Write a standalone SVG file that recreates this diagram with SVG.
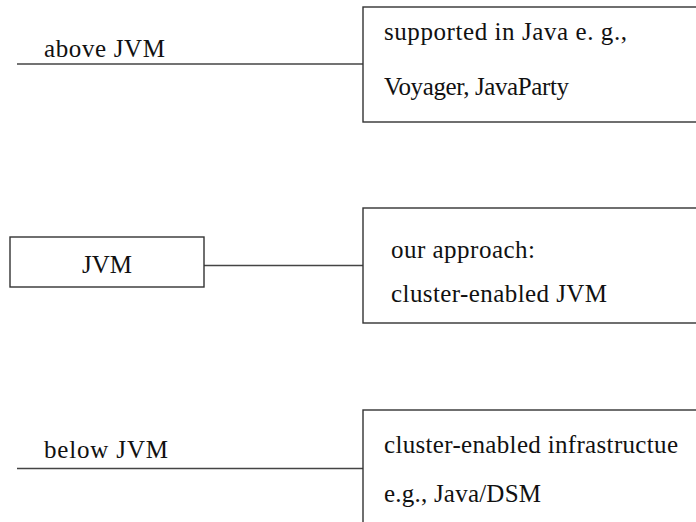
<svg xmlns="http://www.w3.org/2000/svg" width="696" height="522" viewBox="0 0 696 522">
<style>
.box{fill:#fff;stroke:#333;stroke-width:1.4}
.ln{stroke:#444;stroke-width:1.4;fill:none}
</style>
<rect width="696" height="522" fill="#fff"/>
<g id="connectors">
<line class="ln" x1="17" y1="64" x2="363" y2="64"/>
<line class="ln" x1="204" y1="265.5" x2="363" y2="265.5"/>
<line class="ln" x1="17" y1="468.5" x2="363" y2="468.5"/>
</g>
<g font-family="Liberation Serif, Times New Roman, serif" font-size="25" fill="#111">
<g id="above-label"><text x="44" y="57" textLength="121">above JVM</text></g>
<g id="above-box">
<rect class="box" x="363" y="7" width="400" height="115"/>
<text x="384" y="40" textLength="243">supported in Java e. g.,</text>
<text x="384" y="95" textLength="185">Voyager, JavaParty</text>
</g>
<g id="jvm">
<rect class="box" x="10" y="237" width="194" height="50"/>
<text x="82" y="273" textLength="50">JVM</text>
</g>
<g id="approach-box">
<rect class="box" x="363" y="208" width="400" height="115"/>
<text x="391" y="258" textLength="144">our approach:</text>
<text x="391" y="302" textLength="216">cluster-enabled JVM</text>
</g>
<g id="below-label"><text x="44" y="458" textLength="124">below JVM</text></g>
<g id="below-box">
<rect class="box" x="363" y="410" width="400" height="200"/>
<text x="384" y="453" textLength="294">cluster-enabled infrastructue</text>
<text x="384" y="502" textLength="157">e.g., Java/DSM</text>
</g>
</g>
</svg>
